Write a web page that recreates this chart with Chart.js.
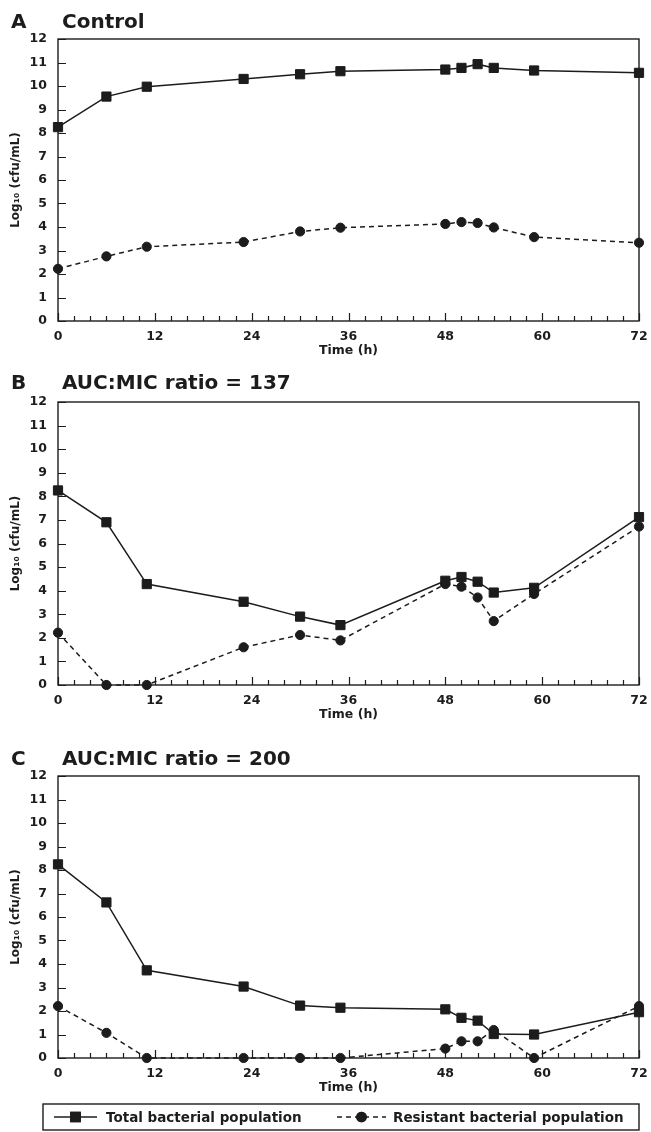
<!DOCTYPE html>
<html><head><meta charset="utf-8">
<script src="https://cdn.jsdelivr.net/npm/chart.js@4/dist/chart.umd.min.js"></script>
<style>
html,body{margin:0;padding:0;background:#fff;}
body{width:651px;height:1132px;position:relative;overflow:hidden;}
canvas{position:absolute;left:0;}
</style></head><body>
<canvas id="cA" width="651" height="361" style="top:0px"></canvas>
<canvas id="cB" width="651" height="364" style="top:361px"></canvas>
<canvas id="cC" width="651" height="407" style="top:725px"></canvas>
<script>
// ---- data ----
const timeHours = [0, 6, 11, 23, 30, 35, 48, 50, 52, 54, 59, 72];
const controlTotal     = [8.25, 9.55, 9.97, 10.3, 10.5, 10.63, 10.7, 10.77, 10.93, 10.77, 10.66, 10.56];
const controlResistant = [2.22, 2.75, 3.16, 3.36, 3.81, 3.97, 4.13, 4.21, 4.17, 3.98, 3.57, 3.33];
const ratio137Total     = [8.25, 6.9, 4.28, 3.53, 2.9, 2.54, 4.42, 4.58, 4.38, 3.92, 4.12, 7.12];
const ratio137Resistant = [2.22, 0, 0, 1.6, 2.12, 1.89, 4.28, 4.17, 3.71, 2.71, 3.86, 6.72];
const ratio200Total     = [8.24, 6.62, 3.73, 3.04, 2.23, 2.14, 2.07, 1.71, 1.59, 1.02, 1.0, 1.95];
const ratio200Resistant = [2.21, 1.07, 0, 0, 0, 0, 0.4, 0.71, 0.71, 1.19, 0, 2.21];
const panelLetters = ['A', 'B', 'C'];
const panelTitles = ['Control', 'AUC:MIC ratio = 137', 'AUC:MIC ratio = 200'];
const seriesLabels = ['Total bacterial population', 'Resistant bacterial population'];
const xTickValues = [0, 12, 24, 36, 48, 60, 72];
const yTickValues = [0, 1, 2, 3, 4, 5, 6, 7, 8, 9, 10, 11, 12];
const xAxisTitle = 'Time (h)';
const yAxisTitle = 'Log\u2081\u2080 (cfu/mL)';

const INK = '#1c1c1c';
const FAM = "'DejaVu Sans', sans-serif";

// frame + inward ticks
const framePlugin = {
  id: 'frame',
  beforeDatasetsDraw(chart) {
    const {ctx, chartArea: a, scales: {x, y}} = chart;
    ctx.save();
    ctx.strokeStyle = INK;
    ctx.lineWidth = 1.4;
    ctx.strokeRect(a.left, a.top, a.right - a.left, a.bottom - a.top);
    ctx.lineWidth = 1.2;
    ctx.beginPath();
    yTickValues.forEach(v => {
      const py = Math.round(y.getPixelForValue(v)) + 0.5;
      ctx.moveTo(a.left, py); ctx.lineTo(a.left + 8, py);
    });
    for (let h = x.min; h <= x.max; h += 2) {
      const px = Math.round(x.getPixelForValue(h)) + 0.5;
      const len = (h % 12 === 0) ? 8 : 5;
      ctx.moveTo(px, a.bottom); ctx.lineTo(px, a.bottom - len);
    }
    ctx.stroke();
    ctx.restore();
  }
};

// panel letter + title
const titlePlugin = {
  id: 'panelTitle',
  afterDraw(chart, args, opts) {
    const {ctx, chartArea: a} = chart;
    ctx.save();
    ctx.fillStyle = INK;
    ctx.font = "bold 20px " + FAM;
    ctx.textBaseline = 'middle';
    ctx.textAlign = 'left';
    const yy = a.top - opts.offsetY;
    ctx.fillText(opts.letter, opts.letterX, yy);
    ctx.fillText(opts.text, opts.textX, yy);
    ctx.restore();
  }
};

// boxed legend beneath the last panel
const boxLegendPlugin = {
  id: 'boxLegend',
  afterDraw(chart, args, opts) {
    if (!opts.show) return;
    const {ctx, chartArea: a} = chart;
    const top = a.bottom + opts.gap, h = opts.height;
    const left = opts.left, right = a.right;
    ctx.save();
    ctx.strokeStyle = INK;
    ctx.lineWidth = 1.4;
    ctx.strokeRect(left, top, right - left, h);
    const cy = top + h / 2;
    ctx.font = "bold 13.5px " + FAM;
    ctx.textBaseline = 'middle';
    ctx.fillStyle = INK;
    chart.data.datasets.forEach((ds, i) => {
      const it = opts.items[i];
      ctx.beginPath();
      ctx.lineWidth = ds.borderWidth;
      ctx.strokeStyle = ds.borderColor;
      ctx.setLineDash(ds.borderDash || []);
      ctx.moveTo(it.x0, cy); ctx.lineTo(it.x1, cy);
      ctx.stroke();
      ctx.setLineDash([]);
      Chart.helpers.drawPoint(ctx, {
        pointStyle: ds.pointStyle, radius: ds.pointRadius, borderWidth: ds.pointBorderWidth, rotation: 0
      }, (it.x0 + it.x1) / 2, cy);
      ctx.fillStyle = ds.pointBackgroundColor;
      ctx.strokeStyle = ds.pointBorderColor;
      ctx.fill(); ctx.stroke();
      ctx.fillStyle = INK;
      ctx.fillText(ds.label, it.tx, cy + 1);
    });
    ctx.restore();
  }
};

function makeChart(id, idx, total, resistant, layoutTop, layoutBottom, titleOffset, legend) {
  return new Chart(document.getElementById(id), {
    type: 'line',
    data: {
      labels: timeHours,
      datasets: [
        {
          label: seriesLabels[0],
          data: timeHours.map((t, i) => ({x: t, y: total[i]})),
          borderColor: INK, borderWidth: 1.5,
          pointStyle: 'rect', pointRadius: 6.5, pointBorderWidth: 1,
          pointBackgroundColor: INK, pointBorderColor: INK,
          tension: 0, clip: false
        },
        {
          label: seriesLabels[1],
          data: timeHours.map((t, i) => ({x: t, y: resistant[i]})),
          borderColor: INK, borderWidth: 1.5, borderDash: [5, 4],
          pointStyle: 'circle', pointRadius: 4.6, pointBorderWidth: 1,
          pointBackgroundColor: INK, pointBorderColor: INK,
          tension: 0, clip: false
        }
      ]
    },
    options: {
      responsive: false, animation: false, devicePixelRatio: 1,
      layout: {padding: {top: layoutTop, right: 12, bottom: layoutBottom, left: 0}},
      plugins: {
        legend: {display: false}, tooltip: {enabled: false},
        panelTitle: {letter: panelLetters[idx], text: panelTitles[idx], letterX: 11, textX: 62, offsetY: titleOffset},
        boxLegend: legend
      },
      scales: {
        x: {
          type: 'linear', min: 0, max: 72,
          grid: {display: false, drawTicks: false},
          border: {display: false},
          afterBuildTicks: s => { s.ticks = xTickValues.map(v => ({value: v})); },
          ticks: {autoSkip: false, maxRotation: 0, padding: 8, color: INK,
                  font: {family: FAM, weight: 'bold', size: 12.5}},
          title: {display: true, text: xAxisTitle, color: INK, padding: {top: 0, bottom: 3},
                  font: {family: FAM, weight: 'bold', size: 12.5}},
          afterFit: s => { s.height = 40; s.paddingLeft = 0; s.paddingRight = 0; }
        },
        y: {
          min: 0, max: 12,
          grid: {display: false, drawTicks: false},
          border: {display: false},
          afterBuildTicks: s => { s.ticks = yTickValues.map(v => ({value: v})); },
          ticks: {autoSkip: false, padding: 11, color: INK,
                  font: {family: FAM, weight: 'bold', size: 12.5}},
          title: {display: true, text: yAxisTitle, color: INK, padding: {top: 9, bottom: 0},
                  font: {family: FAM, weight: 'bold', size: 12}},
          afterFit: s => { s.width = 58; s.paddingTop = 0; s.paddingBottom = 0; }
        }
      }
    },
    plugins: [framePlugin, titlePlugin, boxLegendPlugin]
  });
}

makeChart('cA', 0, controlTotal, controlResistant, 39, 0, 16, {show: false});
makeChart('cB', 1, ratio137Total, ratio137Resistant, 41, 0, 18, {show: false});
makeChart('cC', 2, ratio200Total, ratio200Resistant, 51, 34, 16.5, {
  show: true, gap: 46, height: 26, left: 43,
  items: [{x0: 54, x1: 97, tx: 106}, {x0: 337, x1: 386, tx: 393}]
});
</script>
</body></html>
